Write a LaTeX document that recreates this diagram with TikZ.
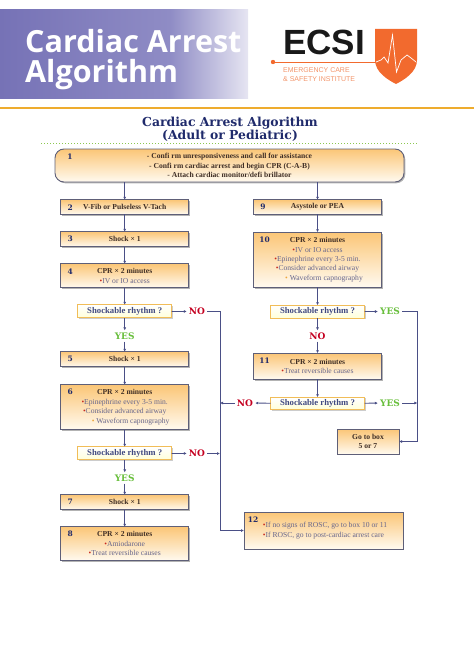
\documentclass[tikz,border=0pt]{standalone}
\usepackage{fontspec}
\setmainfont{Liberation Serif}
\newfontfamily\slabfont{DejaVu Serif}
\newfontfamily\headfont{Open Sans}
\newfontfamily\logofont{Liberation Sans}
\usetikzlibrary{positioning,shadows,arrows.meta}
\definecolor{bandpurple}{HTML}{7672B6}
\definecolor{bandmid}{HTML}{8F8CC5}
\definecolor{bandlight}{HTML}{E6E5F2}
\definecolor{goldline}{HTML}{EEAC2E}
\definecolor{navy}{HTML}{1F2A6B}
\definecolor{dotgreen}{HTML}{8CC850}
\definecolor{boxedge}{HTML}{5E5F78}
\definecolor{boxtop}{HTML}{FBC677}
\definecolor{boxbottom}{HTML}{FFFAF0}
\definecolor{wire}{HTML}{4A4F86}
\definecolor{brownink}{HTML}{3F2E25}
\definecolor{itemblue}{HTML}{67668C}
\definecolor{bulred}{HTML}{C8281E}
\definecolor{bulorange}{HTML}{EDA53A}
\definecolor{yesgreen}{HTML}{68BE3C}
\definecolor{nored}{HTML}{C40020}
\definecolor{logoorange}{HTML}{F26A2E}
\definecolor{logosoft}{HTML}{F2946A}
\newcommand{\itm}[1]{\textcolor{bulred}{•}\textcolor{itemblue}{#1}}
\newcommand{\itmo}[1]{\textcolor{bulorange}{•}\textcolor{itemblue}{\ #1}}
\begin{document}
\begin{tikzpicture}[x=1pt, y=-1pt, align=center, font=\fontsize{7.6}{9.4}\selectfont,
	main/.style = {draw=boxedge, line width=.9pt, outer sep=0pt, top color=boxtop, bottom color=boxbottom, inner sep=0pt, minimum width=128pt, text=brownink, drop shadow={shadow xshift=1.3pt, shadow yshift=-1.3pt, fill=black!50, opacity=.6}},
	choice/.style = {draw=goldline!80, line width=.8pt, outer sep=0pt, top color=white, bottom color=yellow!15, inner sep=0pt, minimum width=94pt, minimum height=13pt, text=navy!85, font=\fontsize{8.7}{10}\selectfont\bfseries, drop shadow={shadow xshift=1pt, shadow yshift=-1pt, fill=black!40, opacity=.5}},
	yes/.style = {text=yesgreen, inner sep=2pt, font=\fontsize{9}{10}\slabfont\bfseries},
	no/.style = {text=nored, inner sep=2pt, font=\fontsize{9}{10}\slabfont\bfseries},
	num/.style = {text=navy, inner sep=0pt, font=\fontsize{7.5}{9}\slabfont\bfseries},
	conn/.style = {draw=wire, line width=.8pt, -{Latex[length=3pt, width=3pt]}}]
	\useasboundingbox (0,0) rectangle (474,669);

	\shade[left color=bandpurple, right color=bandmid] (0,10) rectangle (170,98);
	\shade[left color=bandmid, right color=bandlight] (170,10) rectangle (248,98);
	\node[text=white, align=left, anchor=north west, inner sep=0pt, font=\fontsize{30.5}{30}\headfont\bfseries] (head) at (25,29) {Cardiac Arrest\\Algorithm};
	\node[anchor=west, inner sep=0pt, text=black!90, font=\fontsize{35}{35}\logofont\bfseries] (ecsi) at (283,42) {ECSI};
	\node[anchor=west, inner sep=0pt, align=left, text=logosoft, font=\fontsize{7}{9.2}\logofont] (ecsisub) at (283,74.5) {EMERGENCY CARE\\\& SAFETY INSTITUTE};
	\fill[logoorange] (375,29) -- (417,29) -- (417,60) .. controls (417,72) and (404,80) .. (396,84) .. controls (388,80) and (375,72) .. (375,60) -- cycle;
	\fill[logoorange] (273,62) circle (2.2);
	\draw[logoorange, line width=.8pt] (273,62) -- (376,62);
	\draw[white, line width=.7pt] (376,62) -- (381,60) -- (384,57) -- (388,63) -- (392.5,35) -- (396.5,72) -- (401,60) -- (407,55) -- (411,58) -- (416,62);
	\draw[goldline, line width=2pt] (0,107.5) -- (474,107.5);
	\node[text=navy, inner sep=0pt, font=\fontsize{12.4}{13.2}\slabfont\bfseries] (title) at (230,129) {Cardiac Arrest Algorithm\\(Adult or Pediatric)};
	\draw[dotgreen, line width=1pt, dash pattern=on 1pt off 2pt] (41,143) -- (418,143);

	\node[main, minimum width=349pt, minimum height=33pt, rounded corners=9pt, font=\fontsize{7.6}{9.4}\selectfont\bfseries] (1) at (229.5,165.5) {- Confi rm unresponsiveness and call for assistance\\- Confi rm cardiac arrest and begin CPR (C-A-B)\\- Attach cardiac monitor/defi brillator};
	\node[main, minimum height=14.5pt, font=\fontsize{7.6}{9.4}\selectfont\bfseries] (2) at (124.7,207) {V-Fib or Pulseless V-Tach};
	\node[main, minimum height=15pt, font=\fontsize{7.6}{9.4}\selectfont\bfseries] (3) [below = 17.5pt of 2] {Shock × 1};
	\node[main, minimum height=24pt] (4) [below = 17pt of 3] {\textbf{CPR × 2 minutes}\\\itm{ IV or IO access}};
	\node[choice] (s1) [below = 17pt of 4] {Shockable rhythm ?};
	\node[main, minimum height=15pt, font=\fontsize{7.6}{9.4}\selectfont\bfseries] (5) [below = 34pt of s1] {Shock × 1};
	\node[main, minimum height=45pt] (6) [below = 18pt of 5] {\textbf{CPR × 2 minutes}\\\itm{Epinephrine every 3-5 min.}\\\itm{Consider advanced airway}\\\hspace*{12pt}\itmo{Waveform capnography}};
	\node[choice] (s2) [below = 17pt of 6] {Shockable rhythm ?};
	\node[main, minimum height=15pt, font=\fontsize{7.6}{9.4}\selectfont\bfseries] (7) [below = 35pt of s2] {Shock × 1};
	\node[main, minimum height=34pt] (8) [below = 17pt of 7] {\textbf{CPR × 2 minutes}\\\itm{Amiodarone}\hspace*{30pt}\\\itm{ Treat reversible causes}};
	\node[main, minimum height=14.5pt, font=\fontsize{7.6}{9.4}\selectfont\bfseries] (9) at (317.5,207) {Asystole or PEA};
	\node[main, minimum height=55pt] (10) [below = 18pt of 9] {\textbf{CPR × 2 minutes}\\\itm{IV or IO access}\hspace*{39pt}\\\itm{Epinephrine every 3-5 min.}\\\itm{ Consider advanced airway}\\\hspace*{13pt}\itmo{Waveform capnography}};
	\node[choice] (s3) [below = 18pt of 10] {Shockable rhythm ?};
	\node[main, minimum height=26pt] (11) [below = 35pt of s3] {\textbf{CPR × 2 minutes}\\\itm{ Treat reversible causes}};
	\node[choice, minimum height=12.5pt] (s4) [below = 18pt of 11] {Shockable rhythm ?};
	\node[main, minimum width=62pt, minimum height=25pt, font=\fontsize{7.6}{9.4}\selectfont\bfseries] (go) at (368,441.5) {Go to box\\5 or 7};
	\node[main, minimum width=159pt, minimum height=37pt, align=left] (12) at (323.5,530.5) {\hspace*{3pt}\itm{ If no signs of ROSC, go to box 10 or 11}\\\hspace*{3pt}\itm{ If ROSC, go to post-cardiac arrest care}};

	\node[num] (n1) at ([xshift=15pt,yshift=-8pt]1.north west) {1};
	\foreach \n/\dx in {2/9.5,3/9.5,4/9.5,5/9.5,6/9.5,7/9.5,8/9.5,9/9.5,10/11,11/11,12/9}
		\node[num] (n\n) at ([xshift=\dx pt,yshift=-7.5pt]\n.north west) {\n};

	\node[no] (no1) at (197,311.5) {NO};
	\node[yes] (yes1) at (124.7,336) {YES};
	\node[no] (no2) at (197,453.5) {NO};
	\node[yes] (yes2) at (124.7,478) {YES};
	\node[yes] (yes3) at (390,311.5) {YES};
	\node[no] (no3) at (317.5,336) {NO};
	\node[no] (no4) at (245,403) {NO};
	\node[yes] (yes4) at (390,403) {YES};
	\coordinate (c1) at (220,530.5);
	\coordinate (c2) at (417.3,441.5);

	\draw[conn] (2 |- 1.south) -- (2);
	\draw[conn] (9 |- 1.south) -- (9);
	\draw[conn] (2) -- (3);
	\draw[conn] (3) -- (4);
	\draw[conn] (4) -- (s1);
	\draw[conn] (s1) -- (yes1);
	\draw[conn] (yes1) -- (5);
	\draw[conn] (5) -- (6);
	\draw[conn] (6) -- (s2);
	\draw[conn] (s2) -- (yes2);
	\draw[conn] (yes2) -- (7);
	\draw[conn] (7) -- (8);
	\draw[conn] (9) -- (10);
	\draw[conn] (10) -- (s3);
	\draw[conn] (s3) -- (no3);
	\draw[conn] (no3) -- (11);
	\draw[conn] (11) -- (s4);
	\draw[conn] (s1) -- (no1);
	\draw[conn] (s2) -- (no2);
	\draw[conn] (s3) -- (yes3);
	\draw[conn] (s4) -- (yes4);
	\draw[conn] (s4) -- (no4);
	\draw[conn] (no1) -| (c1) -- (12);
	\draw[conn] (no2) -- (no2 -| c1);
	\draw[conn] (no4) -- (no4 -| c1);
	\draw[conn] (yes3) -| (c2) -- (go);
	\draw[conn] (yes4) -- (yes4 -| c2);
\end{tikzpicture}
\end{document}
